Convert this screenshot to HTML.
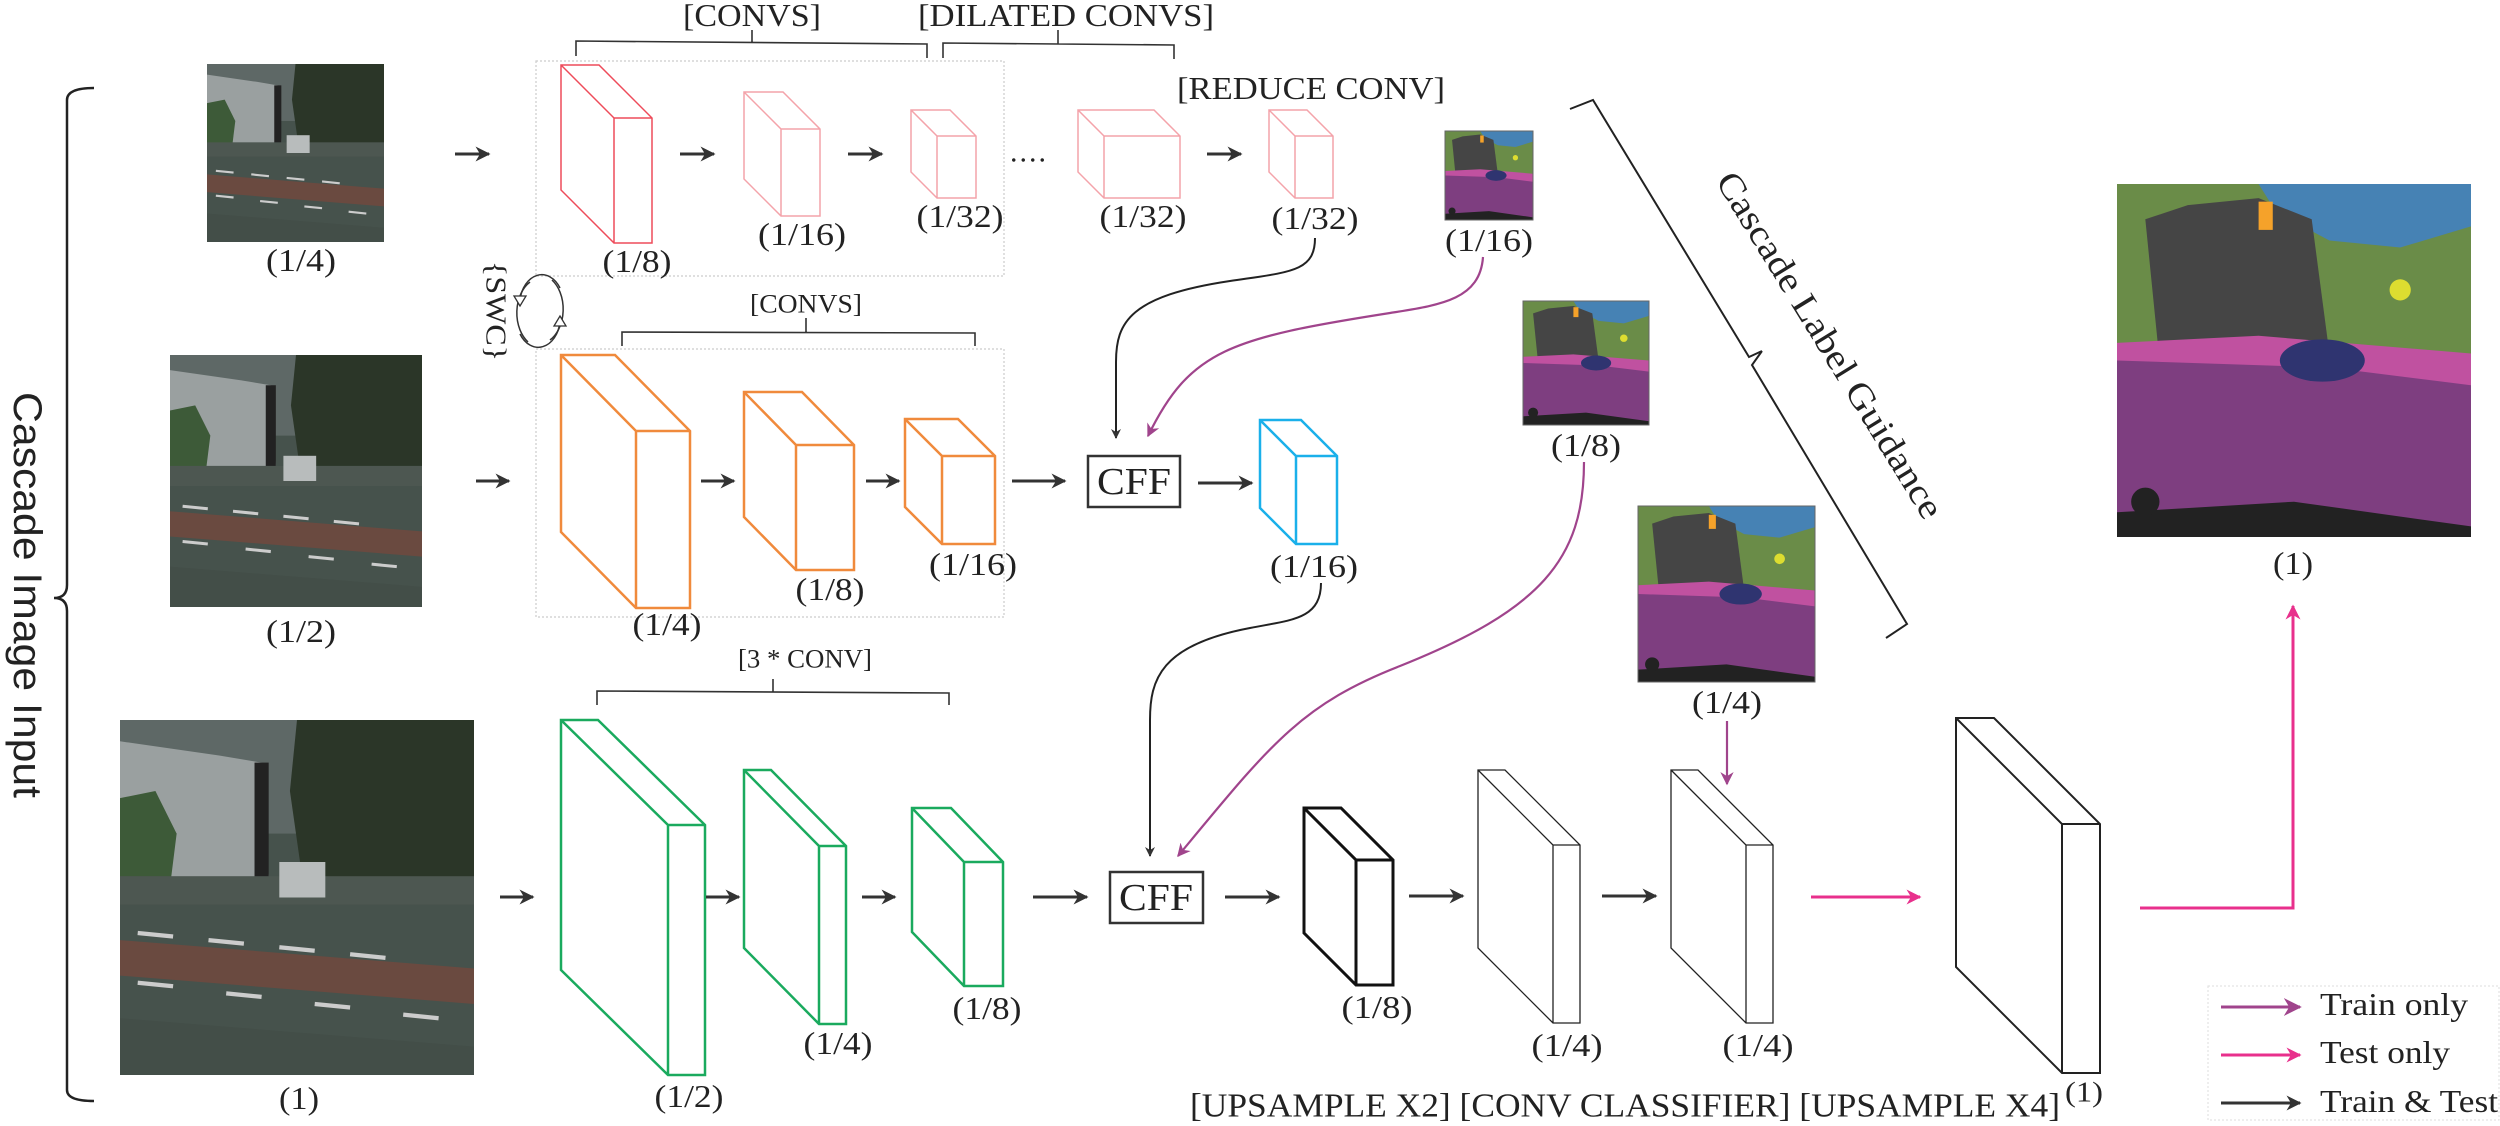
<!DOCTYPE html>
<html><head><meta charset="utf-8"><style>
html,body{margin:0;padding:0;background:#fff;}
svg{display:block;}
text{font-family:"Liberation Serif",serif;fill:#222;}
</style></head><body>
<svg width="2500" height="1126" viewBox="0 0 2500 1126" xmlns="http://www.w3.org/2000/svg">
<defs>
<symbol id="photo" viewBox="0 0 100 100" preserveAspectRatio="none">
<rect width="100" height="100" fill="#46524c"/>
<rect width="100" height="32" fill="#5e6866"/>
<polygon points="0,6 28,10 40,12 42,44 0,46" fill="#9aa0a0"/>
<polygon points="0,22 10,20 16,32 14,48 0,48" fill="#3d5a38"/>
<polygon points="50,0 100,0 100,50 52,48 48,20" fill="#2b3628"/>
<rect x="38" y="12" width="4" height="34" fill="#222"/>
<rect x="0" y="44" width="100" height="8" fill="#4d5751"/>
<rect x="45" y="40" width="13" height="10" fill="#b8bcbc"/>
<polygon points="0,62 100,70 100,80 0,72" fill="#6a4a40"/>
<polygon points="0,84 100,92 100,100 0,100" fill="#434e48"/>
<g stroke="#ccc" stroke-width="1.2"><line x1="5" y1="60" x2="15" y2="61"/><line x1="25" y1="62" x2="35" y2="63"/><line x1="45" y1="64" x2="55" y2="65"/><line x1="65" y1="66" x2="75" y2="67"/><line x1="5" y1="74" x2="15" y2="75"/><line x1="30" y1="77" x2="40" y2="78"/><line x1="55" y1="80" x2="65" y2="81"/><line x1="80" y1="83" x2="90" y2="84"/></g>
</symbol>
<symbol id="seg" viewBox="0 0 100 100" preserveAspectRatio="none">
<rect width="100" height="100" fill="#7e3e80"/>
<rect width="100" height="50" fill="#6a8c48"/>
<polygon points="40,0 100,0 100,12 80,18 60,16 45,8" fill="#4682b4"/>
<polygon points="8,10 20,6 40,4 55,10 60,48 12,50" fill="#454545"/>
<polygon points="0,45 40,43 100,48 100,57 60,52 0,50" fill="#c051a0"/>
<ellipse cx="58" cy="50" rx="12" ry="6" fill="#2f3470"/>
<rect x="40" y="5" width="4" height="8" fill="#f5a22a"/>
<circle cx="80" cy="30" r="3" fill="#dddd30"/>
<polygon points="0,93 50,90 100,97 100,100 0,100" fill="#222"/>
<circle cx="8" cy="90" r="4" fill="#222"/>
</symbol>
<marker id="ab" viewBox="0 0 10 10" refX="9" refY="5" markerWidth="5" markerHeight="5" orient="auto"><path d="M0,0 L10,5 L0,10 L3,5 z" fill="#333"/></marker>
<marker id="ap" viewBox="0 0 10 10" refX="9" refY="5" markerWidth="6" markerHeight="6" orient="auto"><path d="M0,0 L10,5 L0,10 L3,5 z" fill="#a0448c"/></marker>
<marker id="ak" viewBox="0 0 10 10" refX="9" refY="5" markerWidth="5" markerHeight="5" orient="auto"><path d="M0,0 L10,5 L0,10 L3,5 z" fill="#e8308c"/></marker>
</defs>

<path d="M94,88 Q67,88 67,100 L67,585 Q67,598 54,598 Q67,598 67,611 L67,1090 Q67,1101 94,1101" fill="none" stroke="#222" stroke-width="2.5"/>
<text transform="translate(27,595) rotate(90)" font-size="40" text-anchor="middle" dominant-baseline="central" textLength="406" lengthAdjust="spacingAndGlyphs" style="font-family:'Liberation Sans',sans-serif">Cascade Image Input</text>

<use href="#photo" x="207" y="64" width="177" height="178"/>
<use href="#photo" x="170" y="355" width="252" height="252"/>
<use href="#photo" x="120" y="720" width="354" height="355"/>

<rect x="536" y="61" width="468" height="215" fill="none" stroke="#ccc" stroke-width="1.2" stroke-dasharray="2,2"/>
<rect x="536" y="349" width="468" height="268" fill="none" stroke="#ccc" stroke-width="1.2" stroke-dasharray="2,2"/>

<g fill="none" stroke="#333" stroke-width="1.6">
<path d="M576,56 L576,41 L927,44 L927,58 M752,42 L752,30"/>
<path d="M943,58 L943,43 L1174,45 L1174,59 M1058,44 L1058,30"/>
<path d="M622,346 L622,332 L975,333 L975,346 M806,332 L806,318"/>
<path d="M597,705 L597,691 L949,693 L949,705 M773,692 L773,679"/>
</g>
<g font-size="32" text-anchor="middle" dominant-baseline="central">
<text x="752" y="15" textLength="138" lengthAdjust="spacingAndGlyphs">[CONVS]</text>
<text x="1066" y="15" textLength="296" lengthAdjust="spacingAndGlyphs">[DILATED CONVS]</text>
<text x="1311" y="88" textLength="268" lengthAdjust="spacingAndGlyphs">[REDUCE CONV]</text>
<text x="806" y="304" font-size="26" textLength="112" lengthAdjust="spacingAndGlyphs">[CONVS]</text>
<text x="805" y="659" font-size="26" textLength="134" lengthAdjust="spacingAndGlyphs">[3 * CONV]</text>
</g>

<text transform="translate(495,311) rotate(90)" font-size="28" text-anchor="middle" dominant-baseline="central" textLength="100" lengthAdjust="spacingAndGlyphs">{SWC}</text>
<g fill="none" stroke="#333" stroke-width="1.5">
<path d="M530,282 A25,35 0 0 0 528,342"/>
<path d="M550,340 A25,35 0 0 0 552,280"/>
<path d="M560,288 A22,30 0 0 0 520,300"/>
<path d="M520,334 A22,30 0 0 0 560,322"/>
</g>
<path d="M514,296 L526,296 L520,306 z" fill="#fff" stroke="#333" stroke-width="1.3"/>
<path d="M554,326 L566,326 L560,316 z" fill="#fff" stroke="#333" stroke-width="1.3"/>

<g fill="#fff" stroke-linejoin="miter">
<g stroke="#ee4b5a" stroke-width="1.5"><path d="M561,65 L599,65 L652,118 L652,243 L614,243 L561,190 Z M614,118 L652,118 M561,65 L614,118 M614,118 L614,243"/></g>
<g stroke="#f4a3aa" stroke-width="1.5">
<path d="M744,92 L783,92 L820,129 L820,216 L781,216 L744,179 Z M781,129 L820,129 M744,92 L781,129 L781,216"/>
<path d="M911,110 L950,110 L976,136 L976,198 L937,198 L911,172 Z M937,136 L976,136 M911,110 L937,136 L937,198"/>
<path d="M1078,110 L1154,110 L1180,136 L1180,198 L1104,198 L1078,172 Z M1104,136 L1180,136 M1078,110 L1104,136 L1104,198"/>
<path d="M1269,110 L1307,110 L1333,136 L1333,198 L1295,198 L1269,172 Z M1295,136 L1333,136 M1269,110 L1295,136 L1295,198"/>
</g>
<g stroke="#f08a3c" stroke-width="2.5">
<path d="M561,355 L615,355 L690,431 L690,608 L636,608 L561,532 Z M636,431 L690,431 M561,355 L636,431 L636,608"/>
<path d="M744,392 L802,392 L854,445 L854,570 L796,570 L744,517 Z M796,445 L854,445 M744,392 L796,445 L796,570"/>
<path d="M905,419 L958,419 L995,456 L995,544 L942,544 L905,507 Z M942,456 L995,456 M905,419 L942,456 L942,544"/>
</g>
<g stroke="#1ab0ea" stroke-width="2.5"><path d="M1260,420 L1301,420 L1337,456 L1337,544 L1296,544 L1260,508 Z M1296,456 L1337,456 M1260,420 L1296,456 L1296,544"/></g>
<g stroke="#1aaa5e" stroke-width="2.5">
<path d="M561,720 L598,720 L705,825 L705,1075 L668,1075 L561,970 Z M668,825 L705,825 M561,720 L668,825 L668,1075"/>
<path d="M744,770 L771,770 L846,846 L846,1024 L819,1024 L744,948 Z M819,846 L846,846 M744,770 L819,846 L819,1024"/>
<path d="M912,808 L951,808 L1003,862 L1003,986 L964,986 L912,932 Z M964,862 L1003,862 M912,808 L964,862 L964,986"/>
</g>
<g stroke="#111" stroke-width="3"><path d="M1304,808 L1341,808 L1393,860 L1393,985 L1356,985 L1304,933 Z M1356,860 L1393,860 M1304,808 L1356,860 L1356,985"/></g>
<g stroke="#222" stroke-width="1.3">
<path d="M1478,770 L1505,770 L1580,845 L1580,1023 L1553,1023 L1478,948 Z M1553,845 L1580,845 M1478,770 L1553,845 L1553,1023"/>
<path d="M1671,770 L1698,770 L1773,845 L1773,1023 L1746,1023 L1671,948 Z M1746,845 L1773,845 M1671,770 L1746,845 L1746,1023"/>
</g>
<g stroke="#222" stroke-width="2"><path d="M1956,718 L1994,718 L2100,824 L2100,1073 L2062,1073 L1956,967 Z M2062,824 L2100,824 M1956,718 L2062,824 L2062,1073"/></g>
</g>

<rect x="1088" y="456" width="92" height="51" fill="#fff" stroke="#333" stroke-width="2.5"/>
<rect x="1110" y="872" width="93" height="51" fill="#fff" stroke="#333" stroke-width="2.5"/>
<g font-size="38" text-anchor="middle" dominant-baseline="central">
<text x="1134" y="482" textLength="74" lengthAdjust="spacingAndGlyphs">CFF</text>
<text x="1156" y="898" textLength="74" lengthAdjust="spacingAndGlyphs">CFF</text>
</g>

<g stroke="#333" stroke-width="3" marker-end="url(#ab)">
<line x1="455" y1="154" x2="489" y2="154"/><line x1="680" y1="154" x2="714" y2="154"/><line x1="848" y1="154" x2="882" y2="154"/><line x1="1207" y1="154" x2="1241" y2="154"/>
<line x1="476" y1="481" x2="509" y2="481"/><line x1="701" y1="481" x2="734" y2="481"/><line x1="866" y1="481" x2="899" y2="481"/><line x1="1012" y1="481" x2="1065" y2="481"/><line x1="1198" y1="483" x2="1252" y2="483"/>
<line x1="500" y1="897" x2="533" y2="897"/><line x1="706" y1="897" x2="739" y2="897"/><line x1="862" y1="897" x2="895" y2="897"/><line x1="1033" y1="897" x2="1087" y2="897"/><line x1="1225" y1="897" x2="1279" y2="897"/><line x1="1409" y1="896" x2="1463" y2="896"/><line x1="1602" y1="896" x2="1656" y2="896"/>
</g>
<text x="1029" y="152" font-size="30" text-anchor="middle" dominant-baseline="central" letter-spacing="2">....</text>
<line x1="1811" y1="897" x2="1920" y2="897" stroke="#e8308c" stroke-width="3" marker-end="url(#ak)"/>
<polyline points="2140,908 2293,908 2293,606" fill="none" stroke="#e8308c" stroke-width="3" marker-end="url(#ak)"/>

<path d="M1315,238 C1315,272 1290,272 1230,281 C1130,296 1116,322 1116,362 L1116,438" fill="none" stroke="#222" stroke-width="2" marker-end="url(#ab)"/>
<path d="M1483,257 C1480,300 1440,305 1390,313 C1230,338 1190,350 1148,436" fill="none" stroke="#a0448c" stroke-width="2.2" marker-end="url(#ap)"/>
<path d="M1321,583 C1321,620 1290,620 1250,628 C1160,645 1150,680 1150,720 L1150,856" fill="none" stroke="#222" stroke-width="2" marker-end="url(#ab)"/>
<path d="M1584,462 C1584,560 1540,610 1400,666 C1300,705 1270,745 1178,856" fill="none" stroke="#a0448c" stroke-width="2.2" marker-end="url(#ap)"/>
<line x1="1727" y1="721" x2="1727" y2="784" stroke="#a0448c" stroke-width="2.2" marker-end="url(#ap)"/>

<use href="#seg" x="1445" y="131" width="88" height="89"/>
<use href="#seg" x="1523" y="301" width="126" height="124"/>
<use href="#seg" x="1638" y="506" width="177" height="176"/>
<use href="#seg" x="2117" y="184" width="354" height="353"/>
<g fill="none" stroke="#666" stroke-width="1"><rect x="1445" y="131" width="88" height="89"/><rect x="1523" y="301" width="126" height="124"/><rect x="1638" y="506" width="177" height="176"/></g>

<path d="M1570,109 L1593,100 L1749,357 L1762,351 M1762,351 L1752,365 L1907,624 L1886,638" fill="none" stroke="#222" stroke-width="2"/>
<text transform="translate(1830,345) rotate(58.4)" font-size="36" text-anchor="middle" dominant-baseline="central" textLength="400" lengthAdjust="spacingAndGlyphs">Cascade Label Guidance</text>

<g font-size="32" text-anchor="middle" dominant-baseline="central">
<text x="301" y="260" textLength="70" lengthAdjust="spacingAndGlyphs">(1/4)</text>
<text x="637" y="261" textLength="69" lengthAdjust="spacingAndGlyphs">(1/8)</text>
<text x="802" y="234" textLength="88" lengthAdjust="spacingAndGlyphs">(1/16)</text>
<text x="960" y="216" textLength="87" lengthAdjust="spacingAndGlyphs">(1/32)</text>
<text x="1143" y="216" textLength="87" lengthAdjust="spacingAndGlyphs">(1/32)</text>
<text x="1315" y="218" textLength="87" lengthAdjust="spacingAndGlyphs">(1/32)</text>
<text x="1489" y="240" textLength="88" lengthAdjust="spacingAndGlyphs">(1/16)</text>
<text x="1586" y="445" textLength="70" lengthAdjust="spacingAndGlyphs">(1/8)</text>
<text x="1727" y="702" textLength="70" lengthAdjust="spacingAndGlyphs">(1/4)</text>
<text x="2293" y="563" textLength="40" lengthAdjust="spacingAndGlyphs">(1)</text>
<text x="301" y="631" textLength="70" lengthAdjust="spacingAndGlyphs">(1/2)</text>
<text x="667" y="624" textLength="69" lengthAdjust="spacingAndGlyphs">(1/4)</text>
<text x="830" y="589" textLength="69" lengthAdjust="spacingAndGlyphs">(1/8)</text>
<text x="973" y="564" textLength="88" lengthAdjust="spacingAndGlyphs">(1/16)</text>
<text x="1314" y="566" textLength="88" lengthAdjust="spacingAndGlyphs">(1/16)</text>
<text x="299" y="1098" textLength="40" lengthAdjust="spacingAndGlyphs">(1)</text>
<text x="689" y="1096" textLength="69" lengthAdjust="spacingAndGlyphs">(1/2)</text>
<text x="838" y="1043" textLength="69" lengthAdjust="spacingAndGlyphs">(1/4)</text>
<text x="987" y="1008" textLength="69" lengthAdjust="spacingAndGlyphs">(1/8)</text>
<text x="1377" y="1007" textLength="71" lengthAdjust="spacingAndGlyphs">(1/8)</text>
<text x="1567" y="1045" textLength="71" lengthAdjust="spacingAndGlyphs">(1/4)</text>
<text x="1758" y="1045" textLength="71" lengthAdjust="spacingAndGlyphs">(1/4)</text>
<text x="2084" y="1093" font-size="28" textLength="38" lengthAdjust="spacingAndGlyphs">(1)</text>
<text x="1625" y="1106" font-size="34" textLength="870" lengthAdjust="spacingAndGlyphs">[UPSAMPLE X2] [CONV CLASSIFIER] [UPSAMPLE X4]</text>
</g>

<rect x="2208" y="986" width="291" height="134" fill="#fff" stroke="#ddd" stroke-width="1" stroke-dasharray="2,2"/>
<line x1="2221" y1="1007" x2="2300" y2="1007" stroke="#a0448c" stroke-width="3" marker-end="url(#ap)"/>
<line x1="2221" y1="1055" x2="2300" y2="1055" stroke="#e8308c" stroke-width="3" marker-end="url(#ak)"/>
<line x1="2221" y1="1103" x2="2300" y2="1103" stroke="#333" stroke-width="3" marker-end="url(#ab)"/>
<g font-size="32" dominant-baseline="central">
<text x="2320" y="1004" textLength="148" lengthAdjust="spacingAndGlyphs">Train only</text>
<text x="2320" y="1052" textLength="130" lengthAdjust="spacingAndGlyphs">Test only</text>
<text x="2320" y="1101" textLength="178" lengthAdjust="spacingAndGlyphs">Train &amp; Test</text>
</g>
</svg>
</body></html>
